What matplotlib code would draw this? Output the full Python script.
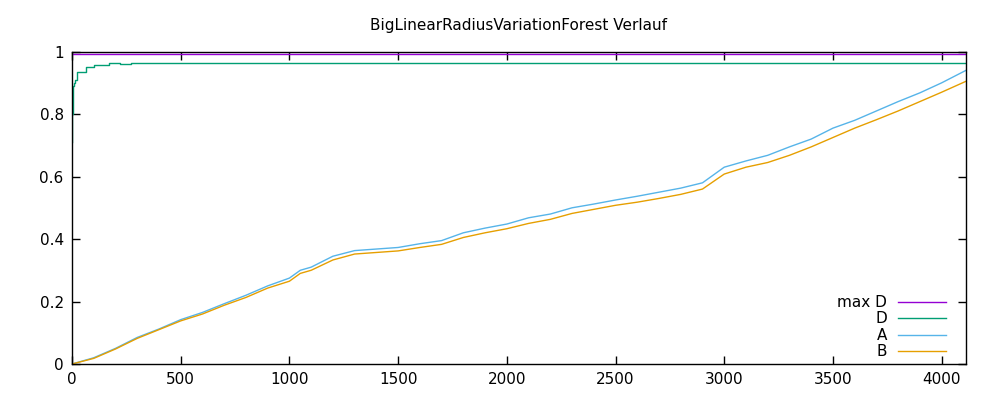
"""
BigLinearRadiusVariationForest Verlauf - gnuplot-style step chart
"""

import numpy as np
import matplotlib
matplotlib.use('Agg')
import matplotlib.pyplot as plt

# x positions and values per series
x_ab = [0, 100, 200, 300, 400, 500, 600, 700, 800, 900, 1000, 1050, 1100,
        1200, 1300, 1400, 1500, 1600, 1700, 1800, 1900, 2000, 2100, 2200,
        2300, 2400, 2500, 2600, 2700, 2800, 2900, 3000, 3100, 3200, 3300,
        3400, 3500, 3600, 3700, 3800, 3900, 4000, 4112]
a_vals = [0.0, 0.02, 0.05, 0.085, 0.112, 0.142, 0.165, 0.193, 0.22, 0.25,
          0.275, 0.30, 0.31, 0.345, 0.363, 0.368, 0.373, 0.385, 0.395, 0.42,
          0.435, 0.448, 0.468, 0.48, 0.50, 0.512, 0.525, 0.537, 0.55, 0.563,
          0.58, 0.63, 0.65, 0.668, 0.695, 0.72, 0.755, 0.78, 0.81, 0.84,
          0.868, 0.90, 0.94]
b_vals = [0.0, 0.018, 0.048, 0.082, 0.11, 0.138, 0.16, 0.188, 0.213, 0.243,
          0.265, 0.29, 0.30, 0.333, 0.352, 0.357, 0.362, 0.373, 0.383, 0.405,
          0.42, 0.433, 0.45, 0.463, 0.482, 0.495, 0.508, 0.518, 0.53, 0.543,
          0.56, 0.608, 0.63, 0.645, 0.668, 0.695, 0.725, 0.755, 0.782, 0.81,
          0.84, 0.87, 0.905]

x_d = [0, 1, 3, 5, 10, 15, 25, 48, 64, 101, 170, 220, 270, 1000, 1030, 4112]
d_vals = [0.71, 0.80, 0.83, 0.89, 0.90, 0.91, 0.935, 0.935, 0.951, 0.957,
          0.962, 0.959, 0.962, 0.965, 0.962, 0.962]

x_max = [0, 4112]
maxd_vals = [0.991, 0.991]

title = 'BigLinearRadiusVariationForest Verlauf'
x_ticks = [0, 500, 1000, 1500, 2000, 2500, 3000, 3500, 4000]
y_ticks = [0, 0.2, 0.4, 0.6, 0.8, 1]
y_tick_labels = ['0', '0.2', '0.4', '0.6', '0.8', '1']

plt.rcParams['font.family'] = ['DejaVu Sans']

fig = plt.figure(figsize=(10, 4), dpi=100)
ax = fig.add_axes([0.072, 0.09, 0.894, 0.781])

ax.plot(x_max, maxd_vals, color='#9400d3', linewidth=1, label='max D')
ax.plot(x_d, d_vals, color='#009e73', linewidth=1, label='D',
        drawstyle='steps-post')
ax.plot(x_ab, a_vals, color='#56b4e9', linewidth=1, label='A')
ax.plot(x_ab, b_vals, color='#e69f00', linewidth=1, label='B')

ax.set_xlim(0, 4112)
ax.set_ylim(0, 1)
ax.set_xticks(x_ticks)
ax.set_xticklabels([str(t) for t in x_ticks])
ax.set_yticks(y_ticks)
ax.set_yticklabels(y_tick_labels)
ax.tick_params(direction='in', length=6, width=1, labelsize=11,
               top=True, right=True, pad=6, colors='black')
for s in ax.spines.values():
    s.set_linewidth(1)

fig.text(0.519, 0.937, title, ha='center', va='center', fontsize=11)

leg = ax.legend(loc='lower right', bbox_to_anchor=(0.985, -0.005),
                frameon=False, markerfirst=False, fontsize=11,
                handlelength=3.2, labelspacing=0.1, handletextpad=0.7,
                borderaxespad=0.0)

plt.savefig('out.png', dpi=100)
